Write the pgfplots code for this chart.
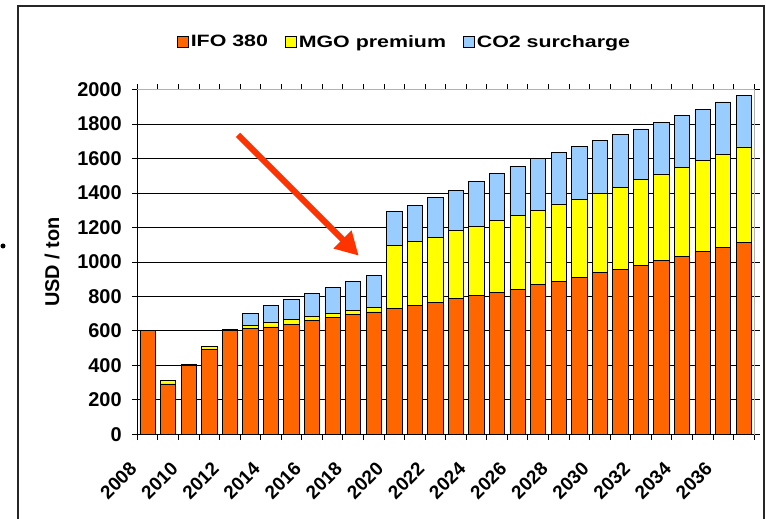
\documentclass[border=0pt]{standalone}
\usepackage{fontspec}
\setmainfont{Liberation Sans}
\newfontfamily\legfont[FakeStretch=1.3]{Liberation Sans}
\usepackage{pgfplots}
\pgfplotsset{compat=1.18}
\usepackage{pgfplotstable}
\usetikzlibrary{arrows.meta}

\definecolor{ifo}{HTML}{FF6600}
\definecolor{mgo}{HTML}{FFFF00}
\definecolor{cotwo}{HTML}{99CCFF}
\definecolor{arrowred}{HTML}{FF3300}

\pgfplotstableread{
k  ifo  mgo co2
0  600  0   0
1  292  18  0
2  399  9   0
3  494  17  0
4  600  10  0
5  614  19  70
6  623  26  98
7  639  29  112
8  660  23  132
9  676  27  147
10 693  27  167
11 710  26  186
12 730  364 199
13 745  372 211
14 763  381 229
15 790  391 236
16 807  399 261
17 825  416 271
18 842  426 287
19 867  434 298
20 887  449 298
21 910  451 308
22 939  457 308
23 954  479 306
24 980  497 294
25 1007 503 298
26 1034 513 304
27 1059 530 297
28 1086 538 304
29 1111 556 298
}\fueldata

\begin{document}
\begin{tikzpicture}[x=1bp,y=-1bp]
\useasboundingbox (0,0) rectangle (766,519);
\draw[line width=1.5bp, black!85] (18,519) -- (18,6) -- (764,6) -- (764,519);
\fill (3,246) circle (2.5bp);
\begin{axis}[
  at={(137.3bp,-434.3bp)}, anchor=south west,
  scale only axis, width=616.7bp, height=344.8bp,
  xmin=-0.5, xmax=29.5, ymin=0, ymax=2000,
  clip=false,
  ybar stacked, bar width=15.3bp,
  ytick={0,200,...,2000},
  xtick={-0.5,1.5,...,27.5},
  xticklabels={2008,2010,2012,2014,2016,2018,2020,2022,2024,2026,2028,2030,2032,2034,2036},
  minor xtick={0.5,2.5,...,28.5,29.5},
  tick align=outside,
  major tick length=5.5bp,
  minor tick length=5.5bp,
  tick style={black, line width=0.8bp},
  ymajorgrids,
  grid style={black, line width=0.8bp},
  axis line style={draw=gray!60, line width=1bp},
  /pgf/number format/assume math mode=true,
  /pgf/number format/1000 sep={},
  tick label style={font=\fontsize{20}{24}\selectfont\bfseries},
  yticklabel style={anchor=east, inner sep=0pt, xshift=-10bp},
  xticklabel style={font=\fontsize{19}{23}\selectfont\bfseries, inner sep=0pt, xshift=-8.8bp, yshift=-21bp, rotate=45, anchor=north east},
  ylabel={USD / ton},
  ylabel style={font=\fontsize{20}{24}\selectfont\bfseries, at={(rel axis cs:-0.1383,0.5)}, anchor=center},
  legend style={at={(rel axis cs:0.4333,1.1378)}, anchor=center, draw=none, fill=none,
    font=\legfont\bfseries\fontsize{16.5}{20}\selectfont, legend columns=3,
    nodes={inner sep=2bp},
    /tikz/every even column/.append style={column sep=15bp}},
  legend image code/.code={\draw[#1, draw=black, line width=0.8bp] (0bp,-5.5bp) rectangle (11bp,5.5bp);},
]
\addplot[fill=ifo, draw=black, line width=0.8bp] table[x=k, y=ifo] {\fueldata};
\addplot[fill=mgo, draw=black, line width=0.8bp] table[x=k, y=mgo] {\fueldata};
\addplot[fill=cotwo, draw=black, line width=0.8bp] table[x=k, y=co2] {\fueldata};
\legend{IFO 380, MGO premium, CO2 surcharge}
\draw[black, line width=1bp] (rel axis cs:0,1) -- (rel axis cs:0,0) -- (rel axis cs:1,0);
\draw[arrowred, line width=6bp, -{Triangle[length=23bp,width=24bp]}] (axis cs:4.40,1737) -- (axis cs:10.27,1036);
\end{axis}
\end{tikzpicture}
\end{document}
